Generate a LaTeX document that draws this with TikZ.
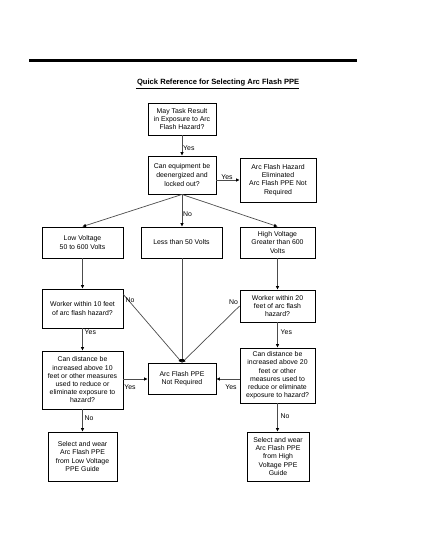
\documentclass[tikz,border=0pt]{standalone}
\usepackage{fontspec}
\setmainfont{Liberation Sans}
\usetikzlibrary{arrows.meta}
\begin{document}
\begin{tikzpicture}[x=1pt,y=-1pt,
  box/.style={draw=black,line width=0.9pt,align=center,inner sep=0pt,
    font=\fontsize{6.9}{8.2}\selectfont},
  conn/.style={draw=black!70,line width=0.7pt,-{Triangle[length=3.5pt,width=3pt,color=black]}},
  lbl/.style={font=\fontsize{6.9}{8.2}\selectfont,inner sep=0.5pt}]
\path[fill=white,use as bounding box] (0,0) rectangle (425,550);
% header rule
\coordinate (r1) at (29,60.7);
\coordinate (r2) at (357,60.7);
\draw[line width=3pt] (r1) -- (r2);
\node[font=\fontsize{7.6}{9}\selectfont\bfseries,inner sep=0pt] (title) at (217.5,84) {\underline{\,Quick Reference for Selecting Arc Flash PPE}};
% boxes
\node[box,minimum width=68pt,minimum height=32pt] (b1) at (182,119) {May Task Result\\in Exposure to Arc\\Flash Hazard?};
\node[box,minimum width=68pt,minimum height=38pt,font=\fontsize{6.9}{9.1}\selectfont] (b2) at (182,175) {Can equipment be\\deenergized and\\locked out?};
\node[box,minimum width=76pt,minimum height=44pt] (b3) at (278,180) {Arc Flash Hazard\\Eliminated\\Arc Flash PPE Not\\Required};
\node[box,minimum width=81pt,minimum height=31pt] (lv) at (82.5,242.5) {Low Voltage\\50 to 600 Volts};
\node[box,minimum width=81pt,minimum height=31pt] (l50) at (181.5,242.5) {Less than 50 Volts};
\node[box,minimum width=75pt,minimum height=31pt] (hv) at (277.5,242.5) {High Voltage\\Greater than 600\\Volts};
\node[box,minimum width=81pt,minimum height=39pt] (w10) at (82.5,308.5) {Worker within 10 feet\\of arc flash hazard?};
\node[box,minimum width=75pt,minimum height=32pt] (w20) at (277.5,306) {Worker within 20\\feet of arc flash\\hazard?};
\node[box,minimum width=81pt,minimum height=58pt] (c10) at (82.5,380) {Can distance be\\increased above 10\\feet or other measures\\used to reduce or\\eliminate exposure to\\hazard?};
\node[box,minimum width=68pt,minimum height=31pt] (ppe) at (182,378.5) {Arc Flash PPE\\Not Required};
\node[box,minimum width=75pt,minimum height=55pt] (c20) at (277.5,375.5) {Can distance be\\increased above 20\\feet or other\\measures used to\\reduce or eliminate\\exposure to hazard?};
\node[box,minimum width=69pt,minimum height=49pt] (s1) at (82.5,456.5) {Select and wear\\Arc Flash PPE\\from Low Voltage\\PPE Guide};
\node[box,minimum width=62pt,minimum height=49pt] (s2) at (278,456.5) {Select and wear\\Arc Flash PPE\\from High\\Voltage PPE\\Guide};
% connectors
\draw[conn] (b1.south) -- (b2.north);
\node[lbl,anchor=west] (y1) at (182.5,148) {Yes};
\draw[conn] (b2.east |- b3.west) -- (b3.west);
\node[lbl,anchor=south] (y2) at (227,180.5) {Yes};
\draw[conn] (b2.south) -- (lv.north);
\draw[conn] (b2.south) -- (l50.north -| b2.south);
\draw[conn] (b2.south) -- (hv.north);
\node[lbl,anchor=west] (n1) at (182.5,214) {No};
\draw[conn] (lv.south) -- (w10.north);
\draw[conn] (hv.south) -- (w20.north);
\draw[conn] (l50.south -| ppe.north) -- (ppe.north);
\draw[conn] ([yshift=-6pt]w10.north east) -- (ppe.north);
\node[lbl] (n2) at (130,300) {No};
\draw[conn] (w20.west) -- (ppe.north);
\node[lbl] (n3) at (233.5,302) {No};
\draw[conn] (w10.south) -- (c10.north);
\node[lbl,anchor=west] (y3) at (84,332) {Yes};
\draw[conn] (w20.south) -- (c20.north);
\node[lbl,anchor=west] (y4) at (280,332) {Yes};
\draw[conn] (c10.east |- 0,379) -- (ppe.west |- 0,379);
\node[lbl] (y5) at (130,387) {Yes};
\draw[conn] (c20.west |- 0,379) -- (ppe.east |- 0,379);
\node[lbl] (y6) at (231,387) {Yes};
\draw[conn] (c10.south) -- (s1.north);
\node[lbl,anchor=west] (n4) at (84,418) {No};
\draw[conn] (c20.south) -- (s2.north -| c20.south);
\node[lbl,anchor=west] (n5) at (280,416) {No};
\end{tikzpicture}
\end{document}
